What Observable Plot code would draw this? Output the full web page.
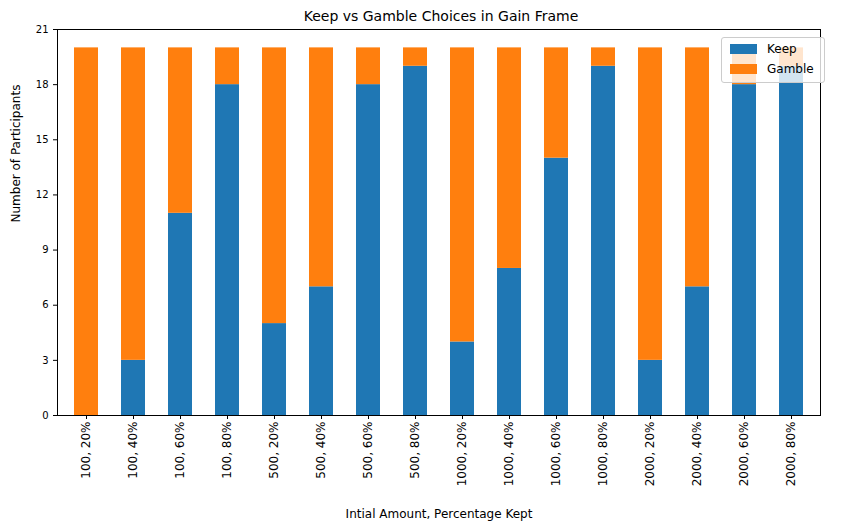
<!DOCTYPE html>
<html><head><meta charset="utf-8">
<script src="https://cdn.jsdelivr.net/npm/d3@7"></script>
<script src="https://cdn.jsdelivr.net/npm/@observablehq/plot@0.6"></script>
<style>
body{margin:0;font-family:"DejaVu Sans",sans-serif;background:#fff;width:842px;height:529px;position:relative;overflow:hidden}
#title{height:20px;line-height:32px;text-align:center;font-size:14px;padding-left:40px}
#legend{position:absolute;left:721px;top:37px;width:102px;height:44px;border:1px solid #ccc;border-radius:3px;background:rgba(255,255,255,0.8);font-size:12px}
.li{position:absolute;left:8px;display:flex;align-items:center}
.sw{width:27px;height:10px;margin-right:10px}
</style></head><body>
<div id="title">Keep vs Gamble Choices in Gain Frame</div>
<div id="chart"></div>
<div id="legend">
<div class="li" style="top:4px"><div class="sw" style="background:#1f77b4"></div>Keep</div>
<div class="li" style="top:24px"><div class="sw" style="background:#ff7f0e"></div>Gamble</div>
</div>
<script>
const categories=["100, 20%","100, 40%","100, 60%","100, 80%","500, 20%","500, 40%","500, 60%","500, 80%","1000, 20%","1000, 40%","1000, 60%","1000, 80%","2000, 20%","2000, 40%","2000, 60%","2000, 80%"];
const keep=[0,3,11,18,5,7,18,19,4,8,14,19,3,7,18,19];
const gamble=[20,17,9,2,15,13,2,1,16,12,6,1,17,13,2,1];
const yTicks=[0,3,6,9,12,15,18,21];
const data=[];
categories.forEach((c,i)=>{data.push({c,type:"Keep",v:keep[i]});data.push({c,type:"Gamble",v:gamble[i]});});
const chart=Plot.plot({
 width:842,height:509,marginTop:9,marginLeft:57,marginRight:22,marginBottom:114,
 style:{fontFamily:"DejaVu Sans",fontSize:"12px",color:"#000",overflow:"visible"},
 x:{domain:categories,paddingInner:0.5,paddingOuter:0.25,label:null},
 y:{domain:[0,21],ticks:yTicks,label:null},
 color:{domain:["Keep","Gamble"],range:["#1f77b4","#ff7f0e"]},
 marks:[
  Plot.barY(data,{x:"c",y:"v",fill:"type",order:["Keep","Gamble"]}),
  Plot.frame({stroke:"#000"}),
  Plot.axisX({tickRotate:-90,label:null,fontSize:12,tickSize:4,tickPadding:2}),
  Plot.axisY({ticks:yTicks,label:null,tickSize:4,fontSize:10}),
  Plot.text(["Intial Amount, Percentage Kept"],{frameAnchor:"bottom",dy:102,fontSize:12}),
  Plot.text(["Number of Participants"],{frameAnchor:"left",dx:-41,rotate:-90,fontSize:12})
 ]
});
document.getElementById("chart").appendChild(chart);
</script></body></html>
